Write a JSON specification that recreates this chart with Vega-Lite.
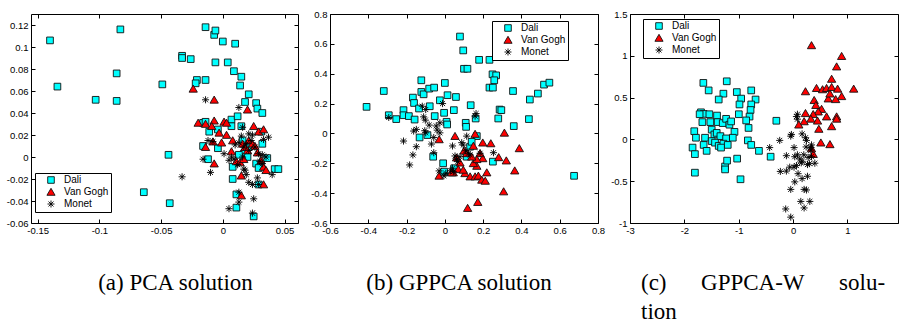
{
"$schema": "https://vega.github.io/schema/vega-lite/v6.json",
"background": "white",
"padding": {"left": 5, "top": 8, "right": 0, "bottom": 0},
"spacing": 32,
"bounds": "flush",
"config": {
 "view": {"stroke": "#000", "strokeWidth": 1},
 "axis": {"domain": false, "grid": false, "ticks": true, "tickSize": -4, "tickColor": "#000", "tickWidth": 1, "labelFont": "Liberation Sans", "labelFontSize": 9.5, "labelColor": "#000", "labelPadding": 7, "labelFlush": false, "labelOverlap": false},
 "axisBottom": {"labelPadding": 6},
 "legend": {"title": null, "orient": "none", "fillColor": "#fff", "strokeColor": "#000", "padding": 2, "symbolOffset": 9, "labelOffset": 8, "rowPadding": 0, "symbolSize": 60, "symbolStrokeColor": "#000", "symbolStrokeWidth": 0.9, "labelFont": "Liberation Sans", "labelFontSize": 10, "labelColor": "#000"},
 "title": {"font": "Liberation Serif", "fontSize": 23, "fontWeight": "normal", "color": "#000"}
},
"resolve": {"scale": {"fill": "independent", "shape": "independent", "stroke": "independent"}},
"datasets": {
"a": [
{"p":"Dali","x":-0.140,"y":0.106},{"p":"Dali","x":-0.134,"y":0.064},{"p":"Dali","x":-0.083,"y":0.116},{"p":"Dali","x":-0.103,"y":0.052},{"p":"Dali","x":-0.086,"y":0.076},{"p":"Dali","x":-0.086,"y":0.051},{"p":"Dali","x":-0.049,"y":0.066},{"p":"Dali","x":-0.033,"y":0.092},{"p":"Dali","x":-0.033,"y":0.090},{"p":"Dali","x":-0.026,"y":0.089},{"p":"Dali","x":-0.021,"y":0.070},{"p":"Dali","x":-0.022,"y":0.067},{"p":"Dali","x":-0.014,"y":0.118},{"p":"Dali","x":-0.007,"y":0.111},{"p":"Dali","x":-0.006,"y":0.115},{"p":"Dali","x":0.000,"y":0.105},{"p":"Dali","x":0.010,"y":0.103},{"p":"Dali","x":-0.006,"y":0.086},{"p":"Dali","x":0.004,"y":0.086},{"p":"Dali","x":0.009,"y":0.078},{"p":"Dali","x":0.015,"y":0.073},{"p":"Dali","x":0.014,"y":0.065},{"p":"Dali","x":0.021,"y":0.057},{"p":"Dali","x":0.018,"y":0.050},{"p":"Dali","x":0.027,"y":0.049},{"p":"Dali","x":0.028,"y":0.044},{"p":"Dali","x":0.032,"y":0.040},{"p":"Dali","x":-0.014,"y":0.070},{"p":"Dali","x":-0.044,"y":0.002},{"p":"Dali","x":-0.064,"y":-0.032},{"p":"Dali","x":-0.043,"y":-0.042},{"p":"Dali","x":-0.016,"y":0.031},{"p":"Dali","x":-0.014,"y":0.032},{"p":"Dali","x":-0.011,"y":0.023},{"p":"Dali","x":-0.004,"y":0.025},{"p":"Dali","x":0.007,"y":0.034},{"p":"Dali","x":0.007,"y":0.028},{"p":"Dali","x":0.012,"y":0.037},{"p":"Dali","x":0.015,"y":0.028},{"p":"Dali","x":-0.016,"y":0.010},{"p":"Dali","x":-0.012,"y":-0.002},{"p":"Dali","x":-0.004,"y":0.008},{"p":"Dali","x":0.008,"y":-0.009},{"p":"Dali","x":0.008,"y":-0.020},{"p":"Dali","x":0.011,"y":-0.034},{"p":"Dali","x":0.011,"y":-0.046},{"p":"Dali","x":0.025,"y":-0.054},{"p":"Dali","x":0.027,"y":-0.006},{"p":"Dali","x":0.029,"y":-0.010},{"p":"Dali","x":0.029,"y":-0.025},{"p":"Dali","x":0.032,"y":0.012},{"p":"Dali","x":0.036,"y":-0.001},{"p":"Dali","x":0.042,"y":-0.011},{"p":"Dali","x":0.045,"y":-0.011},{"p":"Dali","x":0.031,"y":0.023},{"p":"Dali","x":0.016,"y":0.015},{"p":"Dali","x":0.021,"y":0.009},{"p":"Dali","x":0.017,"y":0.003},{"p":"Dali","x":0.013,"y":0.002},{"p":"Dali","x":0.020,"y":0.000},
{"p":"Van Gogh","x":-0.024,"y":0.062},{"p":"Van Gogh","x":-0.007,"y":0.052},{"p":"Van Gogh","x":0.020,"y":0.043},{"p":"Van Gogh","x":-0.020,"y":0.031},{"p":"Van Gogh","x":-0.014,"y":0.030},{"p":"Van Gogh","x":-0.007,"y":0.033},{"p":"Van Gogh","x":0.001,"y":0.032},{"p":"Van Gogh","x":0.003,"y":0.031},{"p":"Van Gogh","x":-0.009,"y":0.028},{"p":"Van Gogh","x":-0.003,"y":0.022},{"p":"Van Gogh","x":0.003,"y":0.020},{"p":"Van Gogh","x":-0.008,"y":0.014},{"p":"Van Gogh","x":-0.001,"y":0.013},{"p":"Van Gogh","x":-0.014,"y":0.009},{"p":"Van Gogh","x":0.007,"y":0.005},{"p":"Van Gogh","x":-0.007,"y":-0.006},{"p":"Van Gogh","x":0.014,"y":-0.005},{"p":"Van Gogh","x":0.017,"y":-0.002},{"p":"Van Gogh","x":0.015,"y":-0.017},{"p":"Van Gogh","x":0.015,"y":-0.035},{"p":"Van Gogh","x":0.025,"y":0.028},{"p":"Van Gogh","x":0.029,"y":0.023},{"p":"Van Gogh","x":0.033,"y":0.025},{"p":"Van Gogh","x":0.021,"y":0.015},{"p":"Van Gogh","x":0.024,"y":0.012},{"p":"Van Gogh","x":0.016,"y":0.012},{"p":"Van Gogh","x":0.028,"y":0.004},{"p":"Van Gogh","x":0.031,"y":-0.003},{"p":"Van Gogh","x":0.033,"y":-0.009},{"p":"Van Gogh","x":0.035,"y":-0.012},{"p":"Van Gogh","x":0.033,"y":-0.025},{"p":"Van Gogh","x":0.018,"y":0.009},{"p":"Van Gogh","x":0.020,"y":0.006},{"p":"Van Gogh","x":0.008,"y":0.015},{"p":"Van Gogh","x":0.011,"y":-0.004},{"p":"Van Gogh","x":0.026,"y":0.010},
{"p":"Monet","x":-0.014,"y":0.052},{"p":"Monet","x":0.013,"y":0.045},{"p":"Monet","x":0.016,"y":0.027},{"p":"Monet","x":-0.012,"y":0.015},{"p":"Monet","x":-0.008,"y":0.014},{"p":"Monet","x":-0.016,"y":-0.002},{"p":"Monet","x":-0.010,"y":-0.014},{"p":"Monet","x":-0.033,"y":-0.018},{"p":"Monet","x":0.001,"y":0.003},{"p":"Monet","x":0.005,"y":-0.003},{"p":"Monet","x":0.013,"y":0.013},{"p":"Monet","x":0.021,"y":0.021},{"p":"Monet","x":0.023,"y":0.015},{"p":"Monet","x":0.026,"y":0.009},{"p":"Monet","x":0.029,"y":0.003},{"p":"Monet","x":0.032,"y":-0.006},{"p":"Monet","x":0.037,"y":0.018},{"p":"Monet","x":0.033,"y":0.016},{"p":"Monet","x":0.040,"y":-0.016},{"p":"Monet","x":0.017,"y":-0.011},{"p":"Monet","x":0.019,"y":-0.016},{"p":"Monet","x":0.028,"y":-0.019},{"p":"Monet","x":0.021,"y":-0.023},{"p":"Monet","x":0.024,"y":-0.025},{"p":"Monet","x":0.029,"y":-0.025},{"p":"Monet","x":0.013,"y":-0.032},{"p":"Monet","x":0.013,"y":-0.041},{"p":"Monet","x":0.025,"y":-0.038},{"p":"Monet","x":0.005,"y":-0.047},{"p":"Monet","x":0.024,"y":-0.051},{"p":"Monet","x":0.016,"y":0.000},{"p":"Monet","x":0.009,"y":-0.002},{"p":"Monet","x":0.012,"y":-0.007},{"p":"Monet","x":0.007,"y":0.000},{"p":"Monet","x":0.021,"y":0.006},{"p":"Monet","x":0.017,"y":0.009},{"p":"Monet","x":0.015,"y":0.019},{"p":"Monet","x":0.024,"y":0.020},{"p":"Monet","x":0.032,"y":0.002},{"p":"Monet","x":0.035,"y":0.000},{"p":"Monet","x":0.018,"y":-0.012},{"p":"Monet","x":0.030,"y":-0.004},{"p":"Monet","x":0.010,"y":0.011},{"p":"Monet","x":0.019,"y":0.012}
],
"b": [
{"p":"Dali","x":-0.409,"y":0.178},{"p":"Dali","x":-0.319,"y":0.284},{"p":"Dali","x":-0.293,"y":0.122},{"p":"Dali","x":-0.254,"y":0.096},{"p":"Dali","x":-0.216,"y":0.156},{"p":"Dali","x":-0.216,"y":0.122},{"p":"Dali","x":-0.188,"y":0.116},{"p":"Dali","x":-0.167,"y":0.240},{"p":"Dali","x":-0.161,"y":0.204},{"p":"Dali","x":-0.158,"y":0.093},{"p":"Dali","x":-0.123,"y":0.356},{"p":"Dali","x":-0.123,"y":0.278},{"p":"Dali","x":-0.111,"y":0.262},{"p":"Dali","x":-0.135,"y":0.167},{"p":"Dali","x":-0.132,"y":-0.027},{"p":"Dali","x":-0.082,"y":0.300},{"p":"Dali","x":-0.056,"y":0.307},{"p":"Dali","x":-0.079,"y":0.182},{"p":"Dali","x":-0.091,"y":-0.011},{"p":"Dali","x":-0.053,"y":0.116},{"p":"Dali","x":-0.026,"y":0.222},{"p":"Dali","x":0.000,"y":0.338},{"p":"Dali","x":0.014,"y":0.256},{"p":"Dali","x":-0.004,"y":0.138},{"p":"Dali","x":0.009,"y":0.078},{"p":"Dali","x":0.058,"y":0.244},{"p":"Dali","x":0.047,"y":0.156},{"p":"Dali","x":0.079,"y":0.649},{"p":"Dali","x":0.096,"y":0.556},{"p":"Dali","x":0.100,"y":0.433},{"p":"Dali","x":0.118,"y":0.433},{"p":"Dali","x":0.135,"y":0.189},{"p":"Dali","x":0.109,"y":0.071},{"p":"Dali","x":0.111,"y":0.044},{"p":"Dali","x":0.161,"y":0.100},{"p":"Dali","x":0.167,"y":-0.018},{"p":"Dali","x":0.179,"y":0.493},{"p":"Dali","x":0.233,"y":0.493},{"p":"Dali","x":0.249,"y":0.396},{"p":"Dali","x":0.268,"y":0.389},{"p":"Dali","x":0.258,"y":0.356},{"p":"Dali","x":0.233,"y":0.307},{"p":"Dali","x":0.251,"y":0.307},{"p":"Dali","x":0.286,"y":0.160},{"p":"Dali","x":0.295,"y":0.156},{"p":"Dali","x":0.279,"y":0.100},{"p":"Dali","x":0.356,"y":0.284},{"p":"Dali","x":0.360,"y":0.049},{"p":"Dali","x":0.444,"y":0.227},{"p":"Dali","x":0.486,"y":0.267},{"p":"Dali","x":0.518,"y":0.327},{"p":"Dali","x":0.546,"y":0.340},{"p":"Dali","x":0.439,"y":0.096},{"p":"Dali","x":0.675,"y":-0.284},{"p":"Dali","x":0.251,"y":-0.189},{"p":"Dali","x":-0.009,"y":-0.200},{"p":"Dali","x":-0.004,"y":-0.256},{"p":"Dali","x":-0.061,"y":-0.156},{"p":"Dali","x":0.132,"y":-0.089},{"p":"Dali","x":0.114,"y":-0.156},{"p":"Dali","x":0.140,"y":-0.056},{"p":"Dali","x":0.049,"y":-0.233},{"p":"Dali","x":0.012,"y":0.060},
{"p":"Van Gogh","x":-0.030,"y":-0.040},{"p":"Van Gogh","x":0.053,"y":-0.018},{"p":"Van Gogh","x":0.158,"y":-0.004},{"p":"Van Gogh","x":0.311,"y":0.004},{"p":"Van Gogh","x":0.389,"y":-0.100},{"p":"Van Gogh","x":0.198,"y":-0.062},{"p":"Van Gogh","x":0.240,"y":-0.067},{"p":"Van Gogh","x":0.281,"y":-0.160},{"p":"Van Gogh","x":0.321,"y":-0.182},{"p":"Van Gogh","x":0.365,"y":-0.249},{"p":"Van Gogh","x":0.307,"y":-0.389},{"p":"Van Gogh","x":0.119,"y":-0.500},{"p":"Van Gogh","x":0.172,"y":-0.460},{"p":"Van Gogh","x":-0.030,"y":-0.284},{"p":"Van Gogh","x":0.044,"y":-0.262},{"p":"Van Gogh","x":0.061,"y":-0.162},{"p":"Van Gogh","x":0.079,"y":-0.196},{"p":"Van Gogh","x":0.100,"y":-0.116},{"p":"Van Gogh","x":0.114,"y":-0.133},{"p":"Van Gogh","x":0.149,"y":-0.084},{"p":"Van Gogh","x":0.105,"y":-0.267},{"p":"Van Gogh","x":0.132,"y":-0.289},{"p":"Van Gogh","x":0.158,"y":-0.289},{"p":"Van Gogh","x":0.167,"y":-0.218},{"p":"Van Gogh","x":0.149,"y":-0.200},{"p":"Van Gogh","x":0.175,"y":-0.284},{"p":"Van Gogh","x":0.193,"y":-0.311},{"p":"Van Gogh","x":0.211,"y":-0.318},{"p":"Van Gogh","x":0.219,"y":-0.262},{"p":"Van Gogh","x":0.198,"y":-0.167},{"p":"Van Gogh","x":0.167,"y":-0.173},{"p":"Van Gogh","x":0.140,"y":-0.156},{"p":"Van Gogh","x":0.184,"y":-0.133},{"p":"Van Gogh","x":0.035,"y":-0.262},{"p":"Van Gogh","x":0.070,"y":-0.240},{"p":"Van Gogh","x":0.096,"y":-0.244},
{"p":"Monet","x":-0.216,"y":-0.051},{"p":"Monet","x":-0.293,"y":0.107},{"p":"Monet","x":-0.184,"y":-0.211},{"p":"Monet","x":-0.167,"y":-0.144},{"p":"Monet","x":-0.149,"y":-0.089},{"p":"Monet","x":-0.163,"y":0.016},{"p":"Monet","x":-0.149,"y":0.027},{"p":"Monet","x":-0.118,"y":0.182},{"p":"Monet","x":-0.100,"y":0.160},{"p":"Monet","x":-0.111,"y":0.111},{"p":"Monet","x":-0.102,"y":0.089},{"p":"Monet","x":-0.082,"y":0.056},{"p":"Monet","x":-0.105,"y":0.018},{"p":"Monet","x":-0.100,"y":0.004},{"p":"Monet","x":-0.070,"y":-0.071},{"p":"Monet","x":-0.058,"y":-0.129},{"p":"Monet","x":-0.058,"y":-0.027},{"p":"Monet","x":-0.040,"y":0.022},{"p":"Monet","x":-0.026,"y":0.004},{"p":"Monet","x":-0.012,"y":0.200},{"p":"Monet","x":-0.026,"y":0.071},{"p":"Monet","x":0.040,"y":-0.084},{"p":"Monet","x":0.067,"y":-0.189},{"p":"Monet","x":0.053,"y":-0.151},{"p":"Monet","x":-0.030,"y":-0.251},{"p":"Monet","x":-0.005,"y":-0.284},{"p":"Monet","x":0.005,"y":-0.267},{"p":"Monet","x":0.040,"y":-0.233},{"p":"Monet","x":0.044,"y":-0.256},{"p":"Monet","x":0.114,"y":-0.018},{"p":"Monet","x":0.088,"y":-0.062},{"p":"Monet","x":0.096,"y":-0.078},{"p":"Monet","x":0.109,"y":-0.116},{"p":"Monet","x":0.123,"y":-0.133},{"p":"Monet","x":0.132,"y":-0.144},{"p":"Monet","x":0.163,"y":0.133},{"p":"Monet","x":0.158,"y":0.116},{"p":"Monet","x":0.184,"y":-0.133},{"p":"Monet","x":0.254,"y":-0.129},{"p":"Monet","x":0.079,"y":-0.156},{"p":"Monet","x":0.061,"y":-0.173},{"p":"Monet","x":-0.045,"y":0.050},{"p":"Monet","x":0.030,"y":-0.250}
],
"c": [
{"p":"Dali","x":-1.651,"y":0.676},{"p":"Dali","x":-1.220,"y":0.695},{"p":"Dali","x":-1.553,"y":0.586},{"p":"Dali","x":-1.282,"y":0.547},{"p":"Dali","x":-1.368,"y":0.477},{"p":"Dali","x":-1.035,"y":0.566},{"p":"Dali","x":-0.770,"y":0.586},{"p":"Dali","x":-0.955,"y":0.488},{"p":"Dali","x":-0.986,"y":0.418},{"p":"Dali","x":-0.690,"y":0.477},{"p":"Dali","x":-0.770,"y":0.418},{"p":"Dali","x":-0.782,"y":0.352},{"p":"Dali","x":-0.801,"y":0.273},{"p":"Dali","x":-0.998,"y":0.301},{"p":"Dali","x":-0.863,"y":0.227},{"p":"Dali","x":-0.819,"y":0.137},{"p":"Dali","x":-1.694,"y":0.324},{"p":"Dali","x":-1.645,"y":0.305},{"p":"Dali","x":-1.719,"y":0.301},{"p":"Dali","x":-1.540,"y":0.301},{"p":"Dali","x":-1.669,"y":0.207},{"p":"Dali","x":-1.522,"y":0.207},{"p":"Dali","x":-1.399,"y":0.285},{"p":"Dali","x":-1.387,"y":0.207},{"p":"Dali","x":-1.294,"y":0.195},{"p":"Dali","x":-1.232,"y":0.246},{"p":"Dali","x":-1.171,"y":0.176},{"p":"Dali","x":-1.140,"y":0.215},{"p":"Dali","x":-1.497,"y":0.117},{"p":"Dali","x":-1.448,"y":0.059},{"p":"Dali","x":-1.405,"y":0.078},{"p":"Dali","x":-1.337,"y":0.039},{"p":"Dali","x":-1.078,"y":0.090},{"p":"Dali","x":-1.109,"y":0.020},{"p":"Dali","x":-1.232,"y":0.012},{"p":"Dali","x":-1.818,"y":0.098},{"p":"Dali","x":-1.787,"y":0.020},{"p":"Dali","x":-1.620,"y":0.020},{"p":"Dali","x":-1.497,"y":-0.020},{"p":"Dali","x":-1.436,"y":-0.039},{"p":"Dali","x":-1.368,"y":-0.078},{"p":"Dali","x":-1.282,"y":-0.051},{"p":"Dali","x":-1.202,"y":-0.066},{"p":"Dali","x":-1.325,"y":-0.098},{"p":"Dali","x":-1.849,"y":-0.098},{"p":"Dali","x":-1.806,"y":-0.176},{"p":"Dali","x":-1.645,"y":-0.066},{"p":"Dali","x":-1.590,"y":-0.137},{"p":"Dali","x":-1.251,"y":-0.324},{"p":"Dali","x":-1.251,"y":-0.359},{"p":"Dali","x":-1.214,"y":-0.254},{"p":"Dali","x":-1.029,"y":-0.230},{"p":"Dali","x":-1.806,"y":-0.398},{"p":"Dali","x":-0.967,"y":-0.477},{"p":"Dali","x":-0.832,"y":-0.012},{"p":"Dali","x":-0.770,"y":-0.066},{"p":"Dali","x":-0.628,"y":-0.137},{"p":"Dali","x":-0.308,"y":0.223},{"p":"Dali","x":-0.413,"y":-0.207},
{"p":"Van Gogh","x":0.339,"y":1.125},{"p":"Van Gogh","x":0.893,"y":0.996},{"p":"Van Gogh","x":0.801,"y":0.871},{"p":"Van Gogh","x":0.709,"y":0.723},{"p":"Van Gogh","x":1.115,"y":0.605},{"p":"Van Gogh","x":0.228,"y":0.574},{"p":"Van Gogh","x":0.431,"y":0.613},{"p":"Van Gogh","x":0.542,"y":0.598},{"p":"Van Gogh","x":0.616,"y":0.613},{"p":"Van Gogh","x":0.709,"y":0.625},{"p":"Van Gogh","x":0.819,"y":0.605},{"p":"Van Gogh","x":0.893,"y":0.516},{"p":"Van Gogh","x":0.647,"y":0.488},{"p":"Van Gogh","x":0.783,"y":0.480},{"p":"Van Gogh","x":0.678,"y":0.547},{"p":"Van Gogh","x":0.388,"y":0.469},{"p":"Van Gogh","x":0.419,"y":0.410},{"p":"Van Gogh","x":0.524,"y":0.363},{"p":"Van Gogh","x":0.462,"y":0.332},{"p":"Van Gogh","x":0.228,"y":0.313},{"p":"Van Gogh","x":0.370,"y":0.301},{"p":"Van Gogh","x":0.616,"y":0.273},{"p":"Van Gogh","x":0.801,"y":0.273},{"p":"Van Gogh","x":0.801,"y":0.246},{"p":"Van Gogh","x":0.327,"y":0.246},{"p":"Van Gogh","x":0.203,"y":0.215},{"p":"Van Gogh","x":0.105,"y":0.176},{"p":"Van Gogh","x":0.450,"y":0.223},{"p":"Van Gogh","x":0.709,"y":0.156},{"p":"Van Gogh","x":0.474,"y":0.125},{"p":"Van Gogh","x":0.511,"y":-0.039},{"p":"Van Gogh","x":0.678,"y":-0.059},{"p":"Van Gogh","x":0.370,"y":-0.176},{"p":"Van Gogh","x":0.339,"y":-0.109},
{"p":"Monet","x":0.080,"y":0.301},{"p":"Monet","x":0.062,"y":0.273},{"p":"Monet","x":0.080,"y":0.242},{"p":"Monet","x":-0.246,"y":-0.012},{"p":"Monet","x":-0.431,"y":-0.098},{"p":"Monet","x":-0.043,"y":0.039},{"p":"Monet","x":-0.031,"y":0.059},{"p":"Monet","x":0.166,"y":0.066},{"p":"Monet","x":0.228,"y":0.020},{"p":"Monet","x":0.246,"y":-0.012},{"p":"Monet","x":0.018,"y":-0.098},{"p":"Monet","x":-0.123,"y":-0.195},{"p":"Monet","x":0.080,"y":-0.184},{"p":"Monet","x":0.123,"y":-0.234},{"p":"Monet","x":0.166,"y":-0.262},{"p":"Monet","x":0.197,"y":-0.184},{"p":"Monet","x":0.031,"y":-0.207},{"p":"Monet","x":-0.234,"y":-0.383},{"p":"Monet","x":-0.123,"y":-0.379},{"p":"Monet","x":-0.062,"y":-0.332},{"p":"Monet","x":0.018,"y":-0.332},{"p":"Monet","x":0.062,"y":-0.313},{"p":"Monet","x":0.092,"y":-0.410},{"p":"Monet","x":0.031,"y":-0.508},{"p":"Monet","x":0.166,"y":-0.469},{"p":"Monet","x":0.265,"y":-0.441},{"p":"Monet","x":0.265,"y":-0.301},{"p":"Monet","x":0.339,"y":-0.207},{"p":"Monet","x":0.400,"y":-0.285},{"p":"Monet","x":0.327,"y":-0.129},{"p":"Monet","x":0.339,"y":-0.066},{"p":"Monet","x":0.203,"y":-0.598},{"p":"Monet","x":0.246,"y":-0.605},{"p":"Monet","x":-0.043,"y":-0.598},{"p":"Monet","x":0.142,"y":-0.742},{"p":"Monet","x":0.308,"y":-0.742},{"p":"Monet","x":0.203,"y":-0.820},{"p":"Monet","x":-0.136,"y":-0.832},{"p":"Monet","x":-0.043,"y":-0.930},{"p":"Monet","x":0.327,"y":-0.098},{"p":"Monet","x":0.277,"y":-0.215},{"p":"Monet","x":0.240,"y":-0.090},{"p":"Monet","x":0.300,"y":-0.290},{"p":"Monet","x":0.150,"y":-0.280}
]
},
"hconcat": [
{
 "width": 267, "height": 209,
 "title": {"text": "(a) PCA solution", "orient": "bottom", "anchor": "middle", "frame": "group", "offset": 37, "dx": 11},
 "resolve": {"axis": {"x": "independent", "y": "independent"}},
 "layer": [
  {"data": {"name": "a"},
   "mark": {"type": "point", "filled": true, "size": 62, "strokeWidth": 0.9, "opacity": 1},
   "encoding": {
    "x": {"field": "x", "type": "quantitative", "title": null, "scale": {"domain": [-0.1554, 0.0609], "nice": false, "zero": false}, "axis": {"orient": "bottom", "values": [-0.15, -0.1, -0.05, 0, 0.05], "labelExpr": "'' + datum.value"}},
    "y": {"field": "y", "type": "quantitative", "title": null, "scale": {"domain": [-0.06, 0.13], "nice": false, "zero": false}, "axis": {"orient": "left", "values": [-0.06, -0.04, -0.02, 0, 0.02, 0.04, 0.06, 0.08, 0.1, 0.12], "labelExpr": "'' + datum.value"}},
    "fill": {"field": "p", "type": "nominal", "scale": {"domain": ["Dali", "Van Gogh", "Monet"], "range": ["#00ffff", "#ff0000", "#000000"]}, "legend": {"legendX": 4, "legendY": 159}},
    "stroke": {"field": "p", "type": "nominal", "scale": {"domain": ["Dali", "Van Gogh", "Monet"], "range": ["#111111", "#111111", "#000000"]}, "legend": {"legendX": 4, "legendY": 159}},
    "shape": {"field": "p", "type": "nominal", "scale": {"domain": ["Dali", "Van Gogh", "Monet"], "range": ["M-0.85,-0.85H0.85V0.85H-0.85Z", "M0,-0.95L1.05,0.85L-1.05,0.85Z", "M0,-0.9V0.9M-0.9,0H0.9M-0.64,-0.64L0.64,0.64M-0.64,0.64L0.64,-0.64"]}, "legend": {"legendX": 4, "legendY": 159}}
   }},
  {"data": {"name": "a"},
   "mark": {"type": "point", "opacity": 0},
   "encoding": {
    "x": {"field": "x", "type": "quantitative", "title": null, "scale": {"domain": [-0.1554, 0.0609], "nice": false, "zero": false}, "axis": {"orient": "top", "labels": false, "values": [-0.15, -0.1, -0.05, 0, 0.05]}},
    "y": {"field": "y", "type": "quantitative", "title": null, "scale": {"domain": [-0.06, 0.13], "nice": false, "zero": false}, "axis": {"orient": "right", "labels": false, "values": [-0.06, -0.04, -0.02, 0, 0.02, 0.04, 0.06, 0.08, 0.1, 0.12]}}
   }}
 ]
},
{
 "width": 268, "height": 209,
 "title": {"text": "(b) GPPCA solution", "orient": "bottom", "anchor": "middle", "frame": "group", "offset": 37, "dx": -5},
 "resolve": {"axis": {"x": "independent", "y": "independent"}},
 "layer": [
  {"data": {"name": "b"},
   "mark": {"type": "point", "filled": true, "size": 62, "strokeWidth": 0.9, "opacity": 1},
   "encoding": {
    "x": {"field": "x", "type": "quantitative", "title": null, "scale": {"domain": [-0.6, 0.8], "nice": false, "zero": false}, "axis": {"orient": "bottom", "values": [-0.6, -0.4, -0.2, 0, 0.2, 0.4, 0.6, 0.8], "labelExpr": "'' + datum.value"}},
    "y": {"field": "y", "type": "quantitative", "title": null, "scale": {"domain": [-0.6, 0.8], "nice": false, "zero": false}, "axis": {"orient": "left", "values": [-0.6, -0.4, -0.2, 0, 0.2, 0.4, 0.6, 0.8], "labelExpr": "'' + datum.value"}},
    "fill": {"field": "p", "type": "nominal", "scale": {"domain": ["Dali", "Van Gogh", "Monet"], "range": ["#00ffff", "#ff0000", "#000000"]}, "legend": {"legendX": 162, "legendY": 7}},
    "stroke": {"field": "p", "type": "nominal", "scale": {"domain": ["Dali", "Van Gogh", "Monet"], "range": ["#111111", "#111111", "#000000"]}, "legend": {"legendX": 162, "legendY": 7}},
    "shape": {"field": "p", "type": "nominal", "scale": {"domain": ["Dali", "Van Gogh", "Monet"], "range": ["M-0.85,-0.85H0.85V0.85H-0.85Z", "M0,-0.95L1.05,0.85L-1.05,0.85Z", "M0,-0.9V0.9M-0.9,0H0.9M-0.64,-0.64L0.64,0.64M-0.64,0.64L0.64,-0.64"]}, "legend": {"legendX": 162, "legendY": 7}}
   }},
  {"data": {"name": "b"},
   "mark": {"type": "point", "opacity": 0},
   "encoding": {
    "x": {"field": "x", "type": "quantitative", "title": null, "scale": {"domain": [-0.6, 0.8], "nice": false, "zero": false}, "axis": {"orient": "top", "labels": false, "values": [-0.6, -0.4, -0.2, 0, 0.2, 0.4, 0.6, 0.8]}},
    "y": {"field": "y", "type": "quantitative", "title": null, "scale": {"domain": [-0.6, 0.8], "nice": false, "zero": false}, "axis": {"orient": "right", "labels": false, "values": [-0.6, -0.4, -0.2, 0, 0.2, 0.4, 0.6, 0.8]}}
   }}
 ]
},
{
 "width": 268, "height": 209,
 "title": {"text": ["(c)\u00a0\u00a0\u00a0\u00a0\u00a0\u00a0GPPCA-W\u00a0\u00a0\u00a0\u00a0\u00a0\u00a0solu-", "tion"], "orient": "bottom", "anchor": "start", "frame": "group", "offset": 37, "dx": 11, "lineHeight": 29},
 "resolve": {"axis": {"x": "independent", "y": "independent"}},
 "layer": [
  {"data": {"name": "c"},
   "mark": {"type": "point", "filled": true, "size": 62, "strokeWidth": 0.9, "opacity": 1},
   "encoding": {
    "x": {"field": "x", "type": "quantitative", "title": null, "scale": {"domain": [-3, 1.93], "nice": false, "zero": false}, "axis": {"orient": "bottom", "values": [-3, -2, -1, 0, 1], "labelExpr": "'' + datum.value"}},
    "y": {"field": "y", "type": "quantitative", "title": null, "scale": {"domain": [-1, 1.5], "nice": false, "zero": false}, "axis": {"orient": "left", "values": [-1, -0.5, 0, 0.5, 1, 1.5], "labelExpr": "'' + datum.value"}},
    "fill": {"field": "p", "type": "nominal", "scale": {"domain": ["Dali", "Van Gogh", "Monet"], "range": ["#00ffff", "#ff0000", "#000000"]}, "legend": {"legendX": 13, "legendY": 5}},
    "stroke": {"field": "p", "type": "nominal", "scale": {"domain": ["Dali", "Van Gogh", "Monet"], "range": ["#111111", "#111111", "#000000"]}, "legend": {"legendX": 13, "legendY": 5}},
    "shape": {"field": "p", "type": "nominal", "scale": {"domain": ["Dali", "Van Gogh", "Monet"], "range": ["M-0.85,-0.85H0.85V0.85H-0.85Z", "M0,-0.95L1.05,0.85L-1.05,0.85Z", "M0,-0.9V0.9M-0.9,0H0.9M-0.64,-0.64L0.64,0.64M-0.64,0.64L0.64,-0.64"]}, "legend": {"legendX": 13, "legendY": 5}}
   }},
  {"data": {"name": "c"},
   "mark": {"type": "point", "opacity": 0},
   "encoding": {
    "x": {"field": "x", "type": "quantitative", "title": null, "scale": {"domain": [-3, 1.93], "nice": false, "zero": false}, "axis": {"orient": "top", "labels": false, "values": [-3, -2, -1, 0, 1]}},
    "y": {"field": "y", "type": "quantitative", "title": null, "scale": {"domain": [-1, 1.5], "nice": false, "zero": false}, "axis": {"orient": "right", "labels": false, "values": [-1, -0.5, 0, 0.5, 1, 1.5]}}
   }}
 ]
}
]
}
